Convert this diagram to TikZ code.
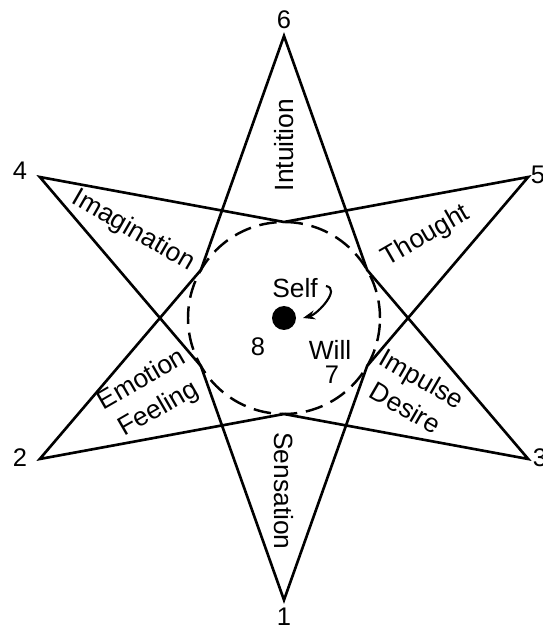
\documentclass[tikz,border=0pt]{standalone}
\usepackage{fontspec}
\setmainfont{Liberation Sans}
\usetikzlibrary{arrows.meta}
\newcommand{\outR}{5.64}
\newcommand{\inR}{1.92}
\tikzset{
  spk/.style={black, line width=1.5pt},
  ring/.style={black, line width=1.4pt, dash pattern=on 10pt off 5pt},
  lbl/.style={font=\fontsize{15}{19}\selectfont, align=center, inner sep=1pt},
  num/.style={font=\fontsize{14.5}{16}\selectfont, inner sep=1pt},
  turn/.style={-{Stealth[length=2.4mm]}, line width=1.2pt},
}

\begin{document}
\begin{tikzpicture}
  \useasboundingbox (-5.68,-6.20) rectangle (5.16,6.36);
  % tips of the six spikes and the points where they touch the circle
  \foreach \a/\n in {90/6,30/5,330/3,270/1,210/2,150/4} {
    \coordinate (o\n) at (\a:\outR);
    \coordinate (i\a) at (\a:\inR);
  }
  \draw[spk] (o6) -- (i150) -- (o2) -- (i270) -- (o3) -- (i30) -- cycle;
  \draw[spk] (o4) -- (i90) -- (o5) -- (i330) -- (o1) -- (i210) -- cycle;
  \draw[ring] (0,0) circle (\inR);

  \node[num] (n6) at (0,5.96) {6};
  \node[num] (n1) at (0,-5.98) {1};
  \node[num] (n4) at (-5.28,2.94) {4};
  \node[num] (n5) at (5.08,2.86) {5};
  \node[num] (n2) at (-5.28,-2.80) {2};
  \node[num] (n3) at (5.12,-2.80) {3};

  \node[lbl, rotate=90] (intu) at (90:3.46) {Intuition};
  \node[lbl, rotate=-30] (imag) at (150:3.48) {Imagination};
  \node[lbl, rotate=30] (thou) at (30:3.28) {Thought};
  \node[lbl, rotate=30] (emo) at (210:3.08) {Emotion\\Feeling};
  \node[lbl, rotate=-30] (imp) at (330:3.0) {Impulse\\Desire};
  \node[lbl, rotate=-90] (sens) at (270:3.46) {Sensation};

  \fill (0,0) circle (0.24);
  \coordinate (dot) at (0.38,0);
  \node[lbl] (self) at (0.22,0.60) {Self};
  \coordinate (hook) at (0.84,0.64);
  \draw[turn] (hook) to[out=-10, in=15] (dot);
  \node[num] (eight) at (-0.52,-0.58) {8};
  \node[lbl] (will) at (0.92,-0.64) {Will};
  \node[num] (seven) at (0.96,-1.14) {7};
\end{tikzpicture}
\end{document}
